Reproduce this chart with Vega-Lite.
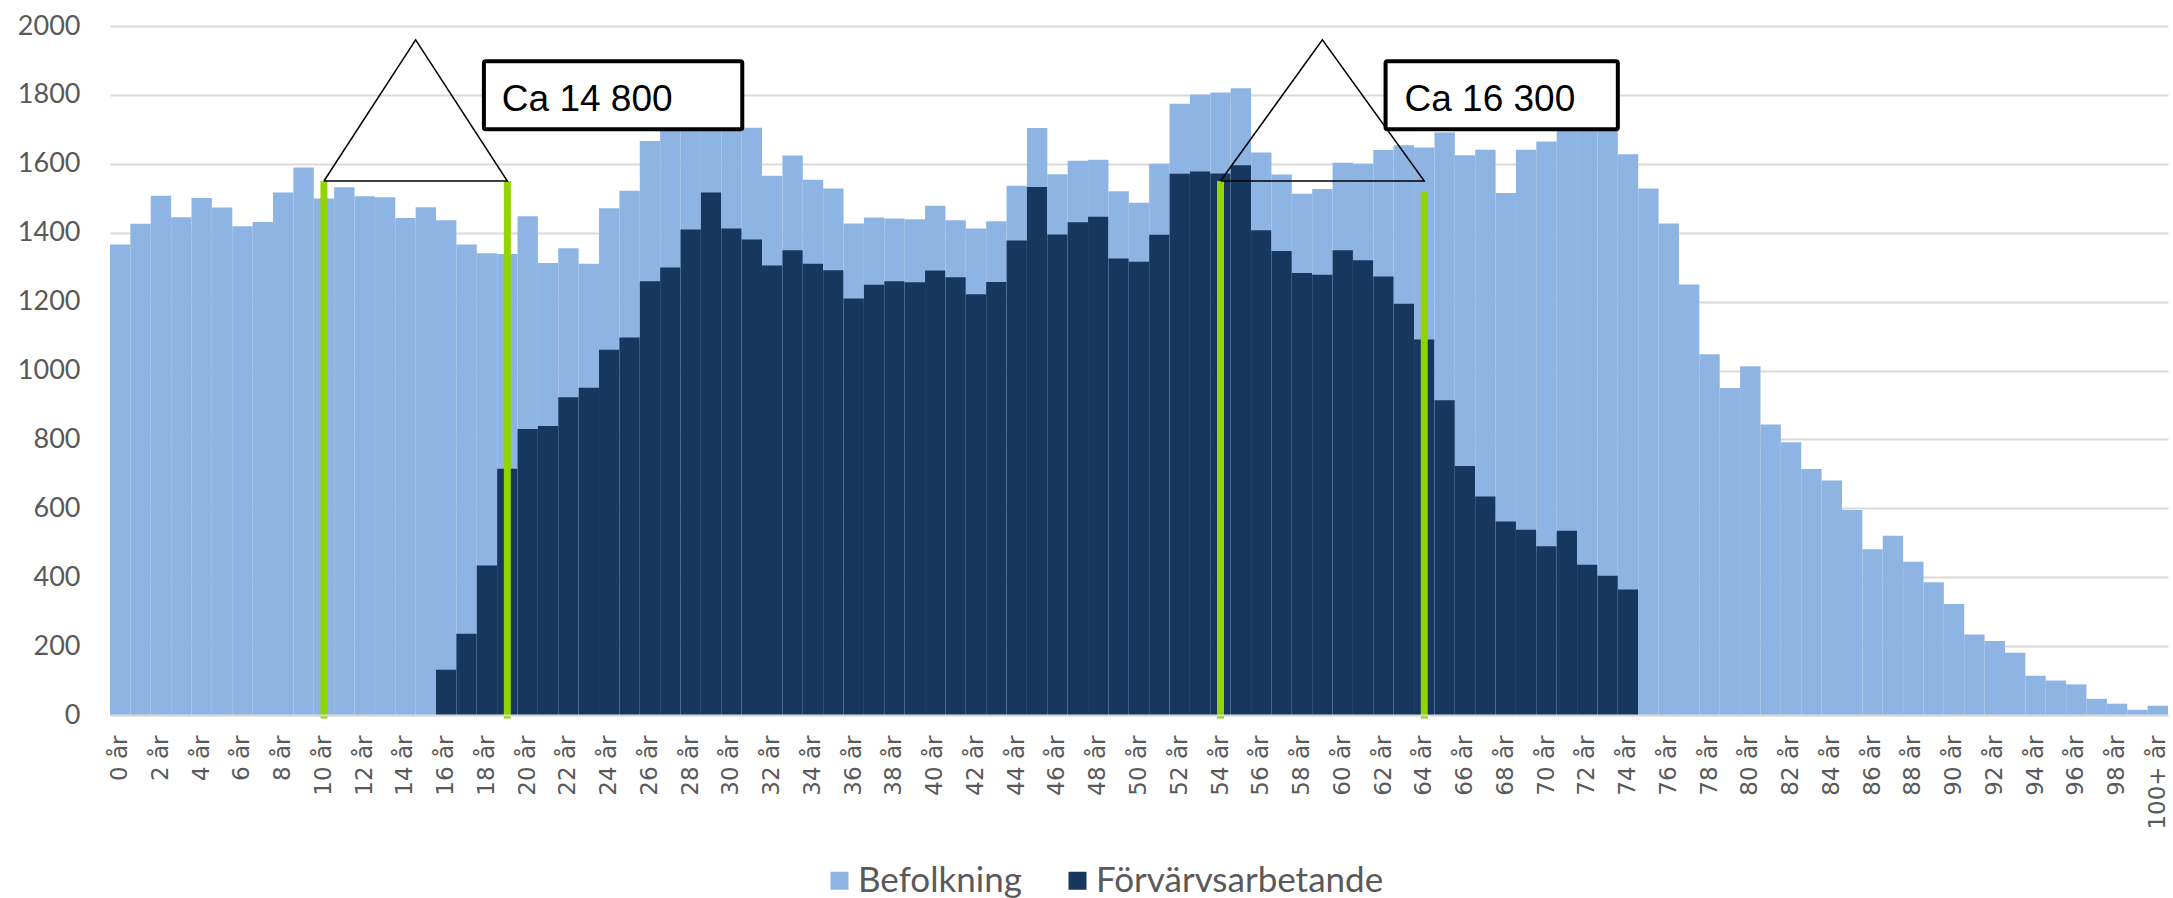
{
  "$schema": "https://vega.github.io/schema/vega-lite/v6.json",
  "width": 2058,
  "height": 689,
  "autosize": {"type": "none"},
  "padding": {"left": 110, "top": 26, "right": 5, "bottom": 183},
  "config": {"view": {"stroke": null}, "font": "Lato"},
  "datasets": {
    "pop": [
      {"age": "0 år", "Befolkning": 1366}, {"age": "1 år", "Befolkning": 1426}, {"age": "2 år", "Befolkning": 1507},
      {"age": "3 år", "Befolkning": 1445}, {"age": "4 år", "Befolkning": 1501}, {"age": "5 år", "Befolkning": 1473},
      {"age": "6 år", "Befolkning": 1419}, {"age": "7 år", "Befolkning": 1431}, {"age": "8 år", "Befolkning": 1517},
      {"age": "9 år", "Befolkning": 1589}, {"age": "10 år", "Befolkning": 1499}, {"age": "11 år", "Befolkning": 1532},
      {"age": "12 år", "Befolkning": 1506}, {"age": "13 år", "Befolkning": 1503}, {"age": "14 år", "Befolkning": 1443},
      {"age": "15 år", "Befolkning": 1474},
      {"age": "16 år", "Befolkning": 1436, "Förvärvsarbetande": 131},
      {"age": "17 år", "Befolkning": 1366, "Förvärvsarbetande": 236},
      {"age": "18 år", "Befolkning": 1340, "Förvärvsarbetande": 434},
      {"age": "19 år", "Befolkning": 1338, "Förvärvsarbetande": 715},
      {"age": "20 år", "Befolkning": 1448, "Förvärvsarbetande": 830},
      {"age": "21 år", "Befolkning": 1312, "Förvärvsarbetande": 839},
      {"age": "22 år", "Befolkning": 1355, "Förvärvsarbetande": 922},
      {"age": "23 år", "Befolkning": 1310, "Förvärvsarbetande": 950},
      {"age": "24 år", "Befolkning": 1471, "Förvärvsarbetande": 1060},
      {"age": "25 år", "Befolkning": 1522, "Förvärvsarbetande": 1096},
      {"age": "26 år", "Befolkning": 1666, "Förvärvsarbetande": 1259},
      {"age": "27 år", "Befolkning": 1710, "Förvärvsarbetande": 1299},
      {"age": "28 år", "Befolkning": 1730, "Förvärvsarbetande": 1409},
      {"age": "29 år", "Befolkning": 1740, "Förvärvsarbetande": 1517},
      {"age": "30 år", "Befolkning": 1720, "Förvärvsarbetande": 1412},
      {"age": "31 år", "Befolkning": 1705, "Förvärvsarbetande": 1380},
      {"age": "32 år", "Befolkning": 1565, "Förvärvsarbetande": 1305},
      {"age": "33 år", "Befolkning": 1624, "Förvärvsarbetande": 1349},
      {"age": "34 år", "Befolkning": 1554, "Förvärvsarbetande": 1310},
      {"age": "35 år", "Befolkning": 1528, "Förvärvsarbetande": 1291},
      {"age": "36 år", "Befolkning": 1427, "Förvärvsarbetande": 1209},
      {"age": "37 år", "Befolkning": 1444, "Förvärvsarbetande": 1249},
      {"age": "38 år", "Befolkning": 1441, "Förvärvsarbetande": 1259},
      {"age": "39 år", "Befolkning": 1439, "Förvärvsarbetande": 1256},
      {"age": "40 år", "Befolkning": 1478, "Förvärvsarbetande": 1290},
      {"age": "41 år", "Befolkning": 1436, "Förvärvsarbetande": 1271},
      {"age": "42 år", "Befolkning": 1412, "Förvärvsarbetande": 1221},
      {"age": "43 år", "Befolkning": 1433, "Förvärvsarbetande": 1257},
      {"age": "44 år", "Befolkning": 1536, "Förvärvsarbetande": 1377},
      {"age": "45 år", "Befolkning": 1704, "Förvärvsarbetande": 1533},
      {"age": "46 år", "Befolkning": 1570, "Förvärvsarbetande": 1395},
      {"age": "47 år", "Befolkning": 1609, "Förvärvsarbetande": 1430},
      {"age": "48 år", "Befolkning": 1612, "Förvärvsarbetande": 1446},
      {"age": "49 år", "Befolkning": 1520, "Förvärvsarbetande": 1325},
      {"age": "50 år", "Befolkning": 1487, "Förvärvsarbetande": 1316},
      {"age": "51 år", "Befolkning": 1600, "Förvärvsarbetande": 1394},
      {"age": "52 år", "Befolkning": 1774, "Förvärvsarbetande": 1571},
      {"age": "53 år", "Befolkning": 1801, "Förvärvsarbetande": 1578},
      {"age": "54 år", "Befolkning": 1807, "Förvärvsarbetande": 1572},
      {"age": "55 år", "Befolkning": 1819, "Förvärvsarbetande": 1596},
      {"age": "56 år", "Befolkning": 1633, "Förvärvsarbetande": 1407},
      {"age": "57 år", "Befolkning": 1569, "Förvärvsarbetande": 1347},
      {"age": "58 år", "Befolkning": 1513, "Förvärvsarbetande": 1283},
      {"age": "59 år", "Befolkning": 1527, "Förvärvsarbetande": 1278},
      {"age": "60 år", "Befolkning": 1603, "Förvärvsarbetande": 1349},
      {"age": "61 år", "Befolkning": 1600, "Förvärvsarbetande": 1320},
      {"age": "62 år", "Befolkning": 1640, "Förvärvsarbetande": 1273},
      {"age": "63 år", "Befolkning": 1654, "Förvärvsarbetande": 1194},
      {"age": "64 år", "Befolkning": 1647, "Förvärvsarbetande": 1090},
      {"age": "65 år", "Befolkning": 1691, "Förvärvsarbetande": 914},
      {"age": "66 år", "Befolkning": 1625, "Förvärvsarbetande": 723},
      {"age": "67 år", "Befolkning": 1641, "Förvärvsarbetande": 634},
      {"age": "68 år", "Befolkning": 1515, "Förvärvsarbetande": 562},
      {"age": "69 år", "Befolkning": 1641, "Förvärvsarbetande": 538},
      {"age": "70 år", "Befolkning": 1665, "Förvärvsarbetande": 490},
      {"age": "71 år", "Befolkning": 1710, "Förvärvsarbetande": 535},
      {"age": "72 år", "Befolkning": 1720, "Förvärvsarbetande": 436},
      {"age": "73 år", "Befolkning": 1705, "Förvärvsarbetande": 404},
      {"age": "74 år", "Befolkning": 1628, "Förvärvsarbetande": 364},
      {"age": "75 år", "Befolkning": 1528}, {"age": "76 år", "Befolkning": 1427}, {"age": "77 år", "Befolkning": 1250},
      {"age": "78 år", "Befolkning": 1047}, {"age": "79 år", "Befolkning": 949}, {"age": "80 år", "Befolkning": 1012},
      {"age": "81 år", "Befolkning": 843}, {"age": "82 år", "Befolkning": 792}, {"age": "83 år", "Befolkning": 714},
      {"age": "84 år", "Befolkning": 681}, {"age": "85 år", "Befolkning": 595}, {"age": "86 år", "Befolkning": 481},
      {"age": "87 år", "Befolkning": 520}, {"age": "88 år", "Befolkning": 445}, {"age": "89 år", "Befolkning": 385},
      {"age": "90 år", "Befolkning": 322}, {"age": "91 år", "Befolkning": 234}, {"age": "92 år", "Befolkning": 215},
      {"age": "93 år", "Befolkning": 181}, {"age": "94 år", "Befolkning": 114}, {"age": "95 år", "Befolkning": 100},
      {"age": "96 år", "Befolkning": 89}, {"age": "97 år", "Befolkning": 47}, {"age": "98 år", "Befolkning": 33},
      {"age": "99 år", "Befolkning": 15}, {"age": "100+ år", "Befolkning": 27}
    ],
    "rules": [
      {"pos": 10.5, "low": -10, "top": 1550},
      {"pos": 19.5, "low": -10, "top": 1550},
      {"pos": 54.5, "low": -10, "top": 1550},
      {"pos": 64.5, "low": -10, "top": 1518}
    ],
    "tri": [
      {"tri": 1, "ord": 0, "px": 10.5, "py": 1550},
      {"tri": 1, "ord": 1, "px": 15.0, "py": 1960},
      {"tri": 1, "ord": 2, "px": 19.5, "py": 1550},
      {"tri": 1, "ord": 3, "px": 10.5, "py": 1550},
      {"tri": 2, "ord": 0, "px": 54.5, "py": 1550},
      {"tri": 2, "ord": 1, "px": 59.5, "py": 1960},
      {"tri": 2, "ord": 2, "px": 64.5, "py": 1550},
      {"tri": 2, "ord": 3, "px": 54.5, "py": 1550}
    ],
    "boxes": [
      {"x1": 18.35, "x2": 31.03, "y1": 1700, "y2": 1898, "tx": 19.23, "ty": 1752, "label": "Ca 14 800"},
      {"x1": 62.6, "x2": 74.0, "y1": 1700, "y2": 1898, "tx": 63.53, "ty": 1752, "label": "Ca 16 300"}
    ]
  },
  "layer": [
    {
      "data": {"name": "pop"},
      "transform": [{"fold": ["Befolkning", "Förvärvsarbetande"], "as": ["serie", "antal"]}],
      "mark": {"type": "bar"},
      "encoding": {
        "x": {
          "field": "age", "type": "nominal", "sort": null, "title": null,
          "scale": {"paddingInner": 0, "paddingOuter": 0},
          "axis": {
            "values": ["0 år","2 år","4 år","6 år","8 år","10 år","12 år","14 år","16 år","18 år","20 år","22 år","24 år","26 år","28 år","30 år","32 år","34 år","36 år","38 år","40 år","42 år","44 år","46 år","48 år","50 år","52 år","54 år","56 år","58 år","60 år","62 år","64 år","66 år","68 år","70 år","72 år","74 år","76 år","78 år","80 år","82 år","84 år","86 år","88 år","90 år","92 år","94 år","96 år","98 år","100+ år"],
            "labelAngle": -90, "labelFont": "DejaVu Sans", "labelFontSize": 23, "labelColor": "#595959",
            "ticks": false, "tickSize": 0, "labelPadding": 20, "labelOverlap": false,
            "domainColor": "#D9D9D9", "domainWidth": 2, "grid": false, "zindex": 1
          }
        },
        "y": {
          "field": "antal", "type": "quantitative", "stack": null, "title": null,
          "scale": {"domain": [0, 2000], "nice": false},
          "axis": {
            "values": [0, 200, 400, 600, 800, 1000, 1200, 1400, 1600, 1800, 2000],
            "format": "d",
            "labelFont": "Lato", "labelFontSize": 27, "labelColor": "#595959",
            "domain": false, "ticks": false, "tickSize": 0, "labelPadding": 30,
            "gridColor": "#D9D9D9", "gridWidth": 2
          }
        },
        "color": {
          "field": "serie", "type": "nominal",
          "scale": {"domain": ["Befolkning", "Förvärvsarbetande"], "range": ["#8EB4E3", "#17375E"]},
          "legend": {
            "orient": "none", "legendX": 712, "legendY": 837, "direction": "horizontal", "title": null,
            "symbolType": "square", "symbolSize": 324, "symbolStrokeWidth": 0,
            "labelFont": "Lato", "labelFontSize": 35, "labelColor": "#595959", "labelLimit": 0,
            "columnPadding": 38, "labelOffset": 1
          }
        }
      }
    },
    {
      "layer": [
        {
          "data": {"name": "rules"},
          "mark": {"type": "rule", "color": "#92D400", "strokeWidth": 7},
          "encoding": {
            "x": {"field": "pos", "type": "quantitative", "scale": {"domain": [0, 101], "nice": false, "zero": false}, "axis": null},
            "y": {"field": "low", "type": "quantitative", "scale": {"domain": [0, 2000], "nice": false}},
            "y2": {"field": "top"}
          }
        },
        {
          "data": {"name": "tri"},
          "mark": {"type": "line", "color": "black", "strokeWidth": 1.5, "strokeJoin": "miter"},
          "encoding": {
            "x": {"field": "px", "type": "quantitative", "scale": {"domain": [0, 101], "nice": false, "zero": false}, "axis": null},
            "y": {"field": "py", "type": "quantitative", "scale": {"domain": [0, 2000], "nice": false}},
            "detail": {"field": "tri", "type": "nominal"},
            "order": {"field": "ord", "type": "quantitative"}
          }
        },
        {
          "data": {"name": "boxes"},
          "mark": {"type": "rect", "fill": "white", "stroke": "black", "strokeWidth": 4, "cornerRadius": 2},
          "encoding": {
            "x": {"field": "x1", "type": "quantitative", "scale": {"domain": [0, 101], "nice": false, "zero": false}, "axis": null},
            "x2": {"field": "x2"},
            "y": {"field": "y1", "type": "quantitative", "scale": {"domain": [0, 2000], "nice": false}},
            "y2": {"field": "y2"}
          }
        },
        {
          "data": {"name": "boxes"},
          "mark": {"type": "text", "align": "left", "baseline": "alphabetic", "font": "Liberation Sans", "fontSize": 37, "color": "black"},
          "encoding": {
            "x": {"field": "tx", "type": "quantitative", "scale": {"domain": [0, 101], "nice": false, "zero": false}, "axis": null},
            "y": {"field": "ty", "type": "quantitative", "scale": {"domain": [0, 2000], "nice": false}},
            "text": {"field": "label"}
          }
        }
      ]
    }
  ],
  "resolve": {"scale": {"x": "independent"}}
}
